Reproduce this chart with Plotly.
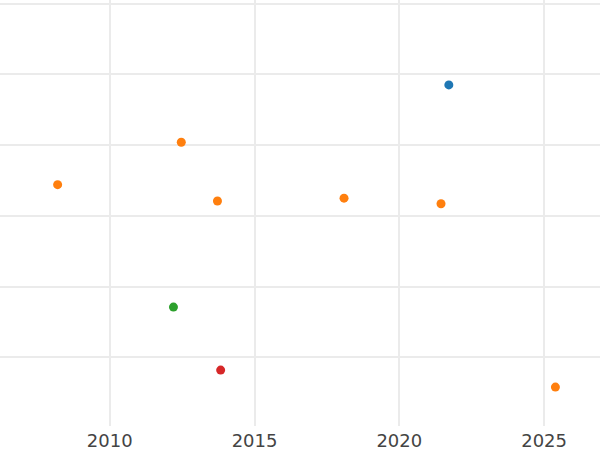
import plotly.graph_objects as go

# Data
blue_x = [2021.71]
blue_y = [4.85]
orange_x = [2008.20, 2012.47, 2013.72, 2018.09, 2021.44, 2025.39]
orange_y = [3.44, 4.04, 3.21, 3.25, 3.17, 0.58]
green_x = [2012.20]
green_y = [1.71]
red_x = [2013.83]
red_y = [0.82]

series = [
    ("A", blue_x, blue_y, "#1f77b4"),
    ("B", orange_x, orange_y, "#ff7f0e"),
    ("C", green_x, green_y, "#2ca02c"),
    ("D", red_x, red_y, "#d62728"),
]

fig = go.Figure()
for name, xs, ys, color in series:
    fig.add_trace(go.Scatter(x=xs, y=ys, mode="markers", name=name,
                             marker=dict(color=color, size=9)))

fig.update_layout(
    width=600, height=450,
    paper_bgcolor="white", plot_bgcolor="white",
    showlegend=False,
    margin=dict(l=0, r=0, t=0, b=24),
    font=dict(family="DejaVu Sans", size=18, color="#444444"),
)
fig.update_xaxes(range=[2006.21, 2026.93], dtick=5, tick0=2010,
                 showgrid=True, gridcolor="#ebebeb", gridwidth=2,
                 zeroline=False, showline=False, ticks="",
                 ticklabelstandoff=2)
fig.update_yaxes(range=[0.03, 6.05], dtick=1, tick0=0,
                 showgrid=True, gridcolor="#ebebeb", gridwidth=2,
                 zeroline=False, showline=False, showticklabels=False, ticks="")

fig.write_html("out.html",
               config={"displayModeBar": False},
               post_script="document.body.style.margin='0';document.body.style.overflow='hidden';")
